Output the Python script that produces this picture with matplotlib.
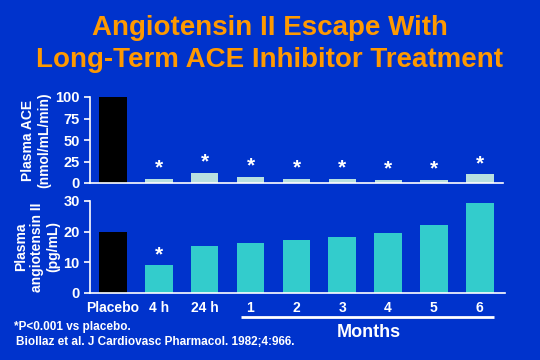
import matplotlib
matplotlib.use("Agg")
import matplotlib.pyplot as plt

plt.rcParams['font.family'] = ['Liberation Sans', 'DejaVu Sans']

categories = ["Placebo", "4 h", "24 h", "1", "2", "3", "4", "5", "6"]
ace_values = [100, 5, 12, 7, 5, 5, 4, 4, 10]
ace_sig = [False, True, True, True, True, True, True, True, True]
ang_values = [20, 9, 15.3, 16.3, 17.3, 18.3, 19.6, 22.2, 29.3]
ang_sig = [False, True, False, False, False, False, False, False, False]
ace_ticks = [0, 25, 50, 75, 100]
ang_ticks = [0, 10, 20, 30]

BG = "#0033CC"
ORANGE = "#FF9900"
CYAN = "#33CCCC"
LIGHT = "#B8E0E0"

fig = plt.figure(figsize=(5.4, 3.6), dpi=100, facecolor=BG)

fig.text(0.5, 1 - 35/360, "Angiotensin II Escape With", ha="center", va="baseline",
         color=ORANGE, fontsize=20, fontweight="bold")
fig.text(0.5, 1 - 67/360, "Long-Term ACE Inhibitor Treatment", ha="center", va="baseline",
         color=ORANGE, fontsize=20, fontweight="bold")

x = list(range(len(categories)))

def style(ax):
    ax.set_facecolor(BG)
    for s in ["top", "right"]:
        ax.spines[s].set_visible(False)
    for s in ["left", "bottom"]:
        ax.spines[s].set_color("white")
        ax.spines[s].set_linewidth(1.2)
    ax.tick_params(axis="y", colors="white", labelsize=10.5, width=1.2, length=4)
    for lab in ax.get_yticklabels():
        lab.set_fontweight("bold")
    ax.set_xlim(-0.5, 8.5)

ax1 = fig.add_axes([90/540, 1 - 183/360, 413/540, 86/360])
colors1 = ["black"] + [LIGHT] * (len(categories) - 1)
ax1.bar(x, ace_values, width=0.6, color=colors1)
ax1.set_ylim(0, 100)
ax1.set_yticks(ace_ticks)
ax1.set_xticks([])
style(ax1)
for xi, v, s in zip(x, ace_values, ace_sig):
    if s:
        ax1.annotate("*", (xi, v), xytext=(0, 1), textcoords="offset points",
                     ha="center", va="bottom", color="white",
                     fontsize=15, fontweight="bold", annotation_clip=False)
ax1.set_ylabel("Plasma ACE\n(nmol/mL/min)", color="white", fontsize=10,
               fontweight="bold", labelpad=3, linespacing=1.2)

ax2 = fig.add_axes([90/540, 1 - 293/360, 415/540, 92/360])
colors2 = ["black"] + [CYAN] * (len(categories) - 1)
ax2.bar(x, ang_values, width=0.6, color=colors2)
ax2.set_ylim(0, 30)
ax2.set_yticks(ang_ticks)
ax2.set_xticks(x)
ax2.set_xticklabels(categories)
style(ax2)
ax2.set_xlim(-0.5, 8.55)
ax2.tick_params(axis="x", length=0, colors="white", labelsize=10, pad=6)
for lab in ax2.get_xticklabels():
    lab.set_fontweight("bold")
for lab in ax2.get_yticklabels():
    lab.set_fontweight("bold")
for xi, v, s in zip(x, ang_values, ang_sig):
    if s:
        ax2.annotate("*", (xi, v), xytext=(0, 1), textcoords="offset points",
                     ha="center", va="bottom", color="white",
                     fontsize=15, fontweight="bold", annotation_clip=False)
ax2.set_ylabel("Plasma\nangiotensin II\n(pg/mL)", color="white", fontsize=10,
               fontweight="bold", labelpad=2, linespacing=1.2)

# Months bracket line
ax2.plot([2.8, 8.3], [-0.26, -0.26], color="white", lw=2,
         transform=ax2.get_xaxis_transform(), clip_on=False, solid_capstyle="butt")
fig.text(369/540, 1 - 337/360, "Months", ha="center", va="baseline", color="white",
         fontsize=13, fontweight="bold")

fig.text(14/540, 1 - 330/360, "*P<0.001 vs placebo.", ha="left", va="baseline",
         color="white", fontsize=8.5, fontweight="bold")
fig.text(16/540, 1 - 345/360, "Biollaz et al. J Cardiovasc Pharmacol. 1982;4:966.",
         ha="left", va="baseline", color="white", fontsize=8.5, fontweight="bold")

fig.savefig("out.png", dpi=100, facecolor=BG)
